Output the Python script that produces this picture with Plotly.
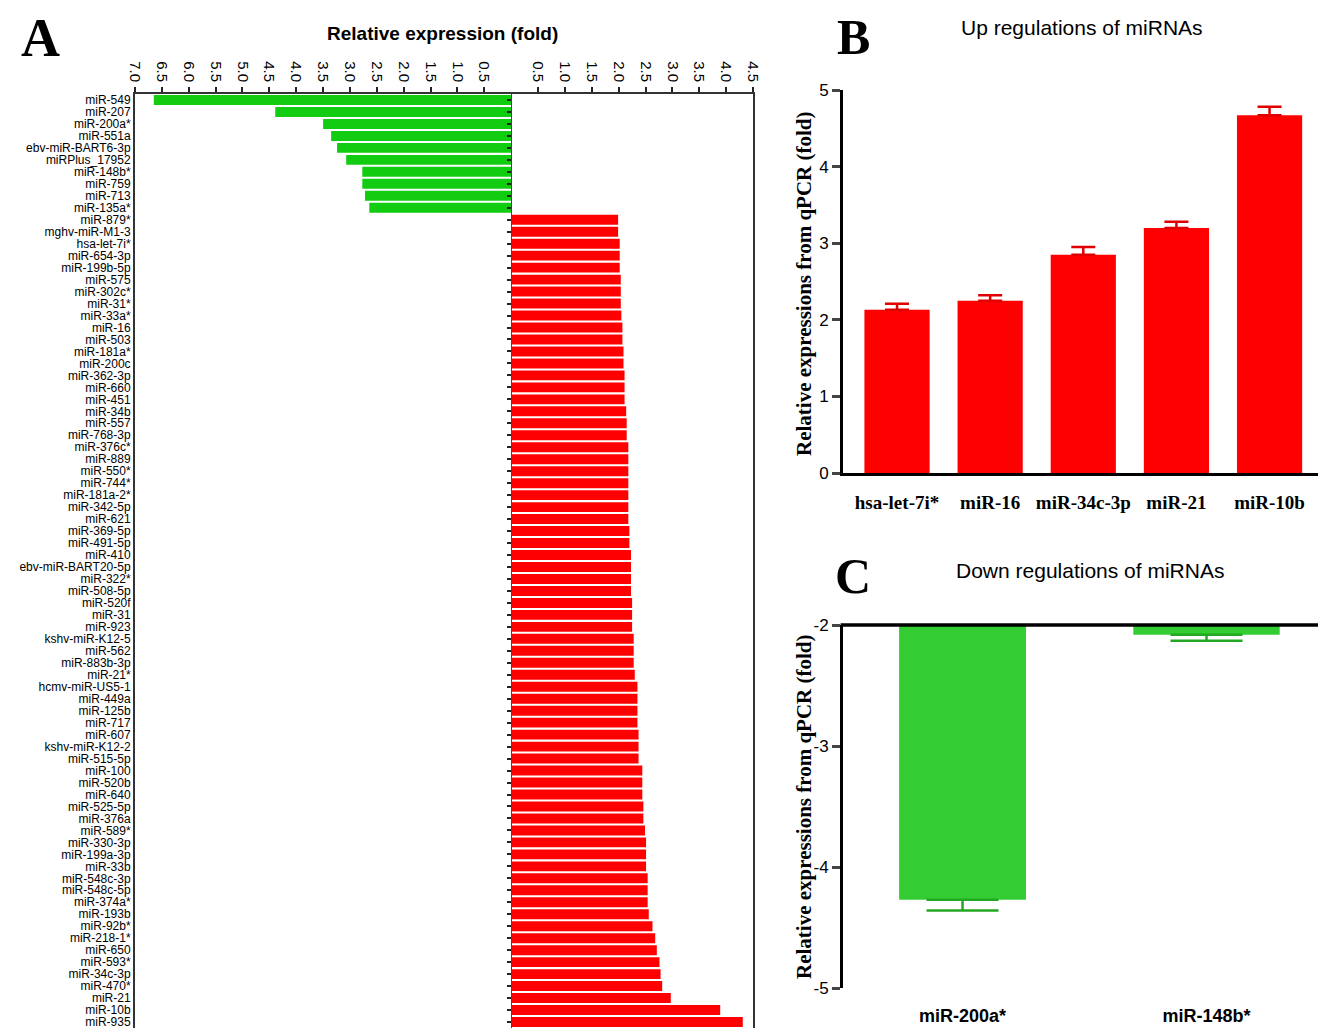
import plotly.graph_objects as go

# ---------------- Panel A data ----------------
down_names = ["miR-549", "miR-207", "miR-200a*", "miR-551a", "ebv-miR-BART6-3p",
              "miRPlus_17952", "miR-148b*", "miR-759", "miR-713", "miR-135a*"]
down_values = [-6.65, -4.39, -3.50, -3.35, -3.24, -3.07, -2.77, -2.77, -2.72, -2.64]

up_names = ["miR-879*", "mghv-miR-M1-3", "hsa-let-7i*", "miR-654-3p", "miR-199b-5p",
            "miR-575", "miR-302c*", "miR-31*", "miR-33a*", "miR-16", "miR-503",
            "miR-181a*", "miR-200c", "miR-362-3p", "miR-660", "miR-451", "miR-34b",
            "miR-557", "miR-768-3p", "miR-376c*", "miR-889", "miR-550*", "miR-744*",
            "miR-181a-2*", "miR-342-5p", "miR-621", "miR-369-5p", "miR-491-5p",
            "miR-410", "ebv-miR-BART20-5p", "miR-322*", "miR-508-5p", "miR-520f",
            "miR-31", "miR-923", "kshv-miR-K12-5", "miR-562", "miR-883b-3p", "miR-21*",
            "hcmv-miR-US5-1", "miR-449a", "miR-125b", "miR-717", "miR-607",
            "kshv-miR-K12-2", "miR-515-5p", "miR-100", "miR-520b", "miR-640",
            "miR-525-5p", "miR-376a", "miR-589*", "miR-330-3p", "miR-199a-3p",
            "miR-33b", "miR-548c-3p", "miR-548c-5p", "miR-374a*", "miR-193b",
            "miR-92b*", "miR-218-1*", "miR-650", "miR-593*", "miR-34c-3p",
            "miR-470*", "miR-21", "miR-10b", "miR-935"]
up_values = [1.99, 1.99, 2.02, 2.02, 2.02, 2.04, 2.04, 2.04, 2.05, 2.07, 2.07,
             2.09, 2.09, 2.11, 2.11, 2.11, 2.14, 2.15, 2.15, 2.18, 2.18, 2.18, 2.18,
             2.18, 2.18, 2.18, 2.20, 2.20, 2.23, 2.23, 2.23, 2.23, 2.25, 2.25, 2.25,
             2.28, 2.28, 2.28, 2.30, 2.35, 2.35, 2.35, 2.35, 2.37, 2.37, 2.37, 2.44,
             2.44, 2.44, 2.46, 2.46, 2.49, 2.51, 2.51, 2.51, 2.54, 2.54, 2.54, 2.56,
             2.63, 2.68, 2.71, 2.76, 2.78, 2.81, 2.97, 3.89, 4.31]

a_tickvals = [-7.0, -6.5, -6.0, -5.5, -5.0, -4.5, -4.0, -3.5, -3.0, -2.5, -2.0, -1.5,
              -1.0, -0.5, 0.5, 1.0, 1.5, 2.0, 2.5, 3.0, 3.5, 4.0, 4.5]
a_ticktext = ["7.0", "6.5", "6.0", "5.5", "5.0", "4.5", "4.0", "3.5", "3.0", "2.5",
              "2.0", "1.5", "1.0", "0.5", "0.5", "1.0", "1.5", "2.0", "2.5", "3.0",
              "3.5", "4.0", "4.5"]

# ---------------- Panel B data ----------------
b_names = ["hsa-let-7i*", "miR-16", "miR-34c-3p", "miR-21", "miR-10b"]
b_values = [2.13, 2.25, 2.85, 3.20, 4.67]
b_errors = [0.08, 0.07, 0.10, 0.08, 0.11]
b_tickvals = [0, 1, 2, 3, 4, 5]

# ---------------- Panel C data ----------------
c_names = ["miR-200a*", "miR-148b*"]
c_values = [-4.27, -2.08]
c_errors = [0.09, 0.05]
c_tickvals = [-5, -4, -3, -2]
c_ticktext = ["-5", "-4", "-3", "-2"]

all_names = down_names + up_names

W, H = 1324, 1028
def px(v):
    return v / W
def py(v):
    return 1 - v / H

RED = "#ff0000"
GREEN_A = "#11cc11"
GREEN_C = "#33cc33"
SANS = "Liberation Sans, Arial, sans-serif"
SERIF = "Liberation Serif, Times New Roman, serif"

fig = go.Figure()

# Panel A bars
fig.add_trace(go.Bar(x=down_values, y=down_names, orientation="h",
                     marker=dict(color=GREEN_A, line=dict(width=0)),
                     xaxis="x", yaxis="y", showlegend=False))
fig.add_trace(go.Bar(x=up_values, y=up_names, orientation="h",
                     marker=dict(color=RED, line=dict(width=0)),
                     xaxis="x", yaxis="y", showlegend=False))
# carrier trace for the zero-position category axis (ticks only)
fig.add_trace(go.Scatter(x=[0] * len(all_names), y=all_names, mode="markers",
                         marker=dict(opacity=0), xaxis="x", yaxis="y4",
                         showlegend=False, hoverinfo="skip"))

# Panel B
fig.add_trace(go.Bar(x=b_names, y=b_values,
                     marker=dict(color=RED, line=dict(width=0)),
                     error_y=dict(type="data", symmetric=False, array=b_errors,
                                  arrayminus=[0] * len(b_errors), color="#e00000",
                                  thickness=2.5, width=12),
                     width=0.70, xaxis="x2", yaxis="y2", showlegend=False))

# Panel C
fig.add_trace(go.Bar(x=c_names, y=c_values,
                     marker=dict(color=GREEN_C, line=dict(width=0)),
                     error_y=dict(type="data", symmetric=False, array=[0] * len(c_errors),
                                  arrayminus=c_errors, color="#24a824",
                                  thickness=2.5, width=36),
                     width=[0.52, 0.60], xaxis="x3", yaxis="y3", showlegend=False))

a_x0, a_x1 = px(135), px(753)
a_y1 = py(94)
zero_pos = a_x0 + (7.0 / 11.5) * (a_x1 - a_x0)
n_rows = len(all_names)


def ann(text, x, y, family, size, angle=0):
    return dict(text=text, x=px(x), y=py(y), xref="paper", yref="paper",
                xanchor="center", yanchor="middle", showarrow=False,
                textangle=angle, font=dict(family=family, size=size, color="black"))


layout = dict(
    width=W, height=H,
    margin=dict(l=0, r=0, t=0, b=0, autoexpand=False),
    paper_bgcolor="white", plot_bgcolor="white",
    bargap=0.17,
    font=dict(family=SANS, color="black"),
    xaxis=dict(domain=[a_x0, a_x1], range=[-7, 4.5], side="top", anchor="y",
               tickmode="array", tickvals=a_tickvals, ticktext=a_ticktext,
               tickangle=90, ticks="outside", ticklen=5, tickwidth=1.5,
               tickcolor="#222", showline=True, linecolor="#333", linewidth=1.5,
               mirror=True, showgrid=False, zeroline=False, automargin=False,
               tickfont=dict(family=SANS, size=15, color="black"),
               tickprefix="<b>", ticksuffix="</b>"),
    yaxis=dict(domain=[0, a_y1], anchor="x", type="category",
               categoryorder="array", categoryarray=all_names,
               range=[n_rows - 0.5, -0.5], tickmode="linear", dtick=1,
               showline=True, linecolor="#333", linewidth=2, mirror=True,
               ticks="", showgrid=False, zeroline=False, automargin=False,
               tickfont=dict(family=SANS, size=12, color="black")),
    yaxis4=dict(overlaying="y", matches="y", anchor="free", position=zero_pos,
                type="category", showticklabels=False, ticks="outside", ticklen=4,
                tickmode="linear", dtick=1,
                tickwidth=1.5, tickcolor="#222", showline=True, linecolor="#444",
                linewidth=1, showgrid=False, zeroline=False, automargin=False),
    xaxis2=dict(domain=[px(843), px(1318)], anchor="y2", range=[-0.58, 4.52],
                showline=True, linecolor="black", linewidth=3,
                ticks="outside", ticklen=10, tickcolor="rgba(0,0,0,0)",
                showgrid=False, automargin=False,
                tickfont=dict(family=SERIF, size=19, color="black"),
                tickprefix="<b>", ticksuffix="</b>"),
    yaxis2=dict(domain=[py(473), py(90)], anchor="x2", range=[0, 5],
                tickvals=b_tickvals, showline=True, linecolor="black",
                linewidth=3, ticks="outside", ticklen=8, tickwidth=2.5,
                showgrid=False, zeroline=False, automargin=False,
                tickfont=dict(family=SANS, size=17, color="black"),
                tickprefix="<b>", ticksuffix="</b>"),
    xaxis3=dict(domain=[px(843), px(1318)], anchor="y3", range=[-0.49, 1.457],
                showline=False, ticks="outside", ticklen=11,
                tickcolor="rgba(0,0,0,0)", showgrid=False, automargin=False,
                tickfont=dict(family=SANS, size=18, color="black"),
                tickprefix="<b>", ticksuffix="</b>"),
    yaxis3=dict(domain=[py(988), py(625)], anchor="x3", range=[-5, -2],
                tickvals=c_tickvals, ticktext=c_ticktext, showline=True,
                linecolor="black", linewidth=3, ticks="outside", ticklen=8,
                tickwidth=2.5, showgrid=False, zeroline=False, automargin=False,
                tickfont=dict(family=SANS, size=17, color="black"),
                tickprefix="<b>", ticksuffix="</b>"),
    shapes=[dict(type="line", xref="x3 domain", yref="y3 domain", x0=-0.005, x1=1,
                 y0=1, y1=1, line=dict(color="black", width=3.5))],
    annotations=[
        ann("<b>A</b>", 40, 38, SERIF, 54),
        ann("<b>B</b>", 853, 37, SERIF, 50),
        ann("<b>C</b>", 853, 576, SERIF, 50),
        ann("<b>Relative expression (fold)</b>", 442, 34, SANS, 19),
        ann("Up regulations of miRNAs", 1082, 27, SANS, 21),
        ann("Down regulations of miRNAs", 1090, 570, SANS, 21),
        ann("<b>Relative expressions from qPCR (fold)</b>", 804, 284, SERIF, 21, -90),
        ann("<b>Relative expressions from qPCR (fold)</b>", 804, 807, SERIF, 21, -90),
    ],
)
fig.update_layout(**layout)
fig.write_html("out.html", config={"displayModeBar": False},
               post_script="document.body.style.margin='0';document.body.style.padding='0';")
